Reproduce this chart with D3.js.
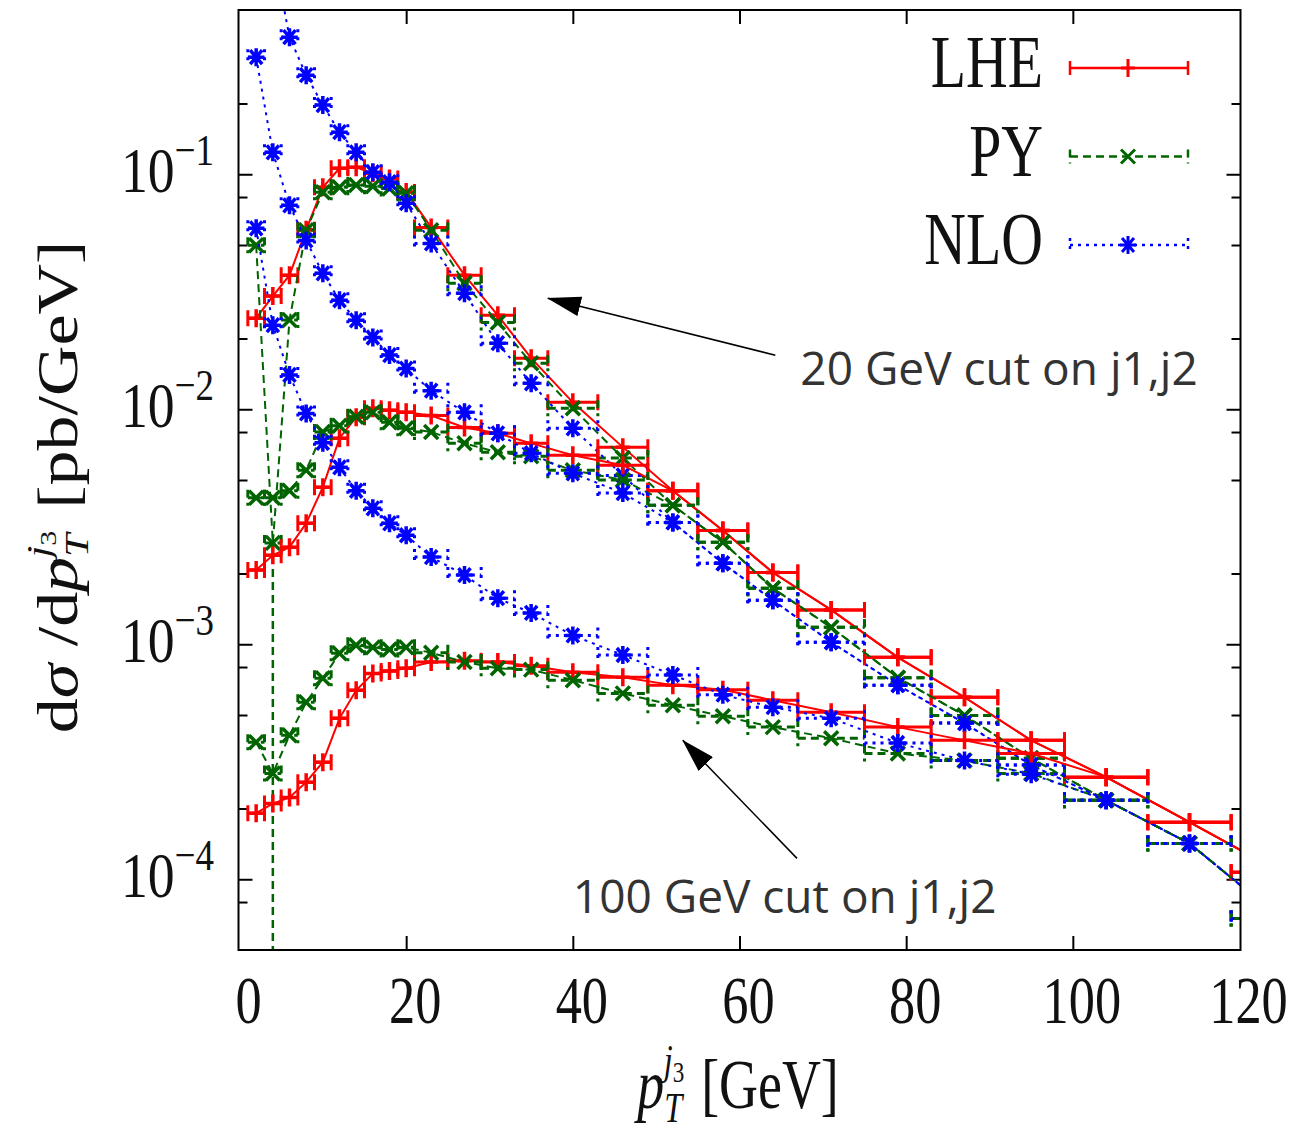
<!DOCTYPE html>
<html>
<head>
<meta charset="utf-8">
<title>pT of third jet</title>
<style>
body { margin: 0; background: #fff; }
svg { display: block; }
.serif { font-family: "Liberation Serif", "DejaVu Serif", serif; fill: #111; }
.note { font-family: "Open Sans", "Liberation Sans", sans-serif; font-size: 46px; fill: #333; }
</style>
</head>
<body>
<script src="https://cdn.jsdelivr.net/npm/d3@7/dist/d3.min.js"></script>
<script>

// bin edges in GeV (2 GeV bins at low pT, wider further out)
const binEdges = [1,3,5,7,9,11,13,15,17,19,21,25,29,33,37,43,49,55,61,67,75,83,91,99,109,119,131];

// 20 GeV cut on j1,j2 (top family)
const lhe20 = [0.0244,0.0303,0.0372,0.058,0.088,0.106,0.107,0.101,0.096,0.084, 0.0594,0.0372,0.0251,0.0165, 0.0107,0.0069,0.0045,0.00305,0.00202, 0.0014,0.00088,0.000595,0.00039, 0.000272,0.000175, 0.000107];
const py20  = [0.0499,0.0027,0.024,0.0578,0.0838,0.088,0.090,0.089,0.087,0.083, 0.0578,0.0344,0.0234,0.0157, 0.0101,0.0062,0.0039,0.00272,0.00173, 0.00118,0.00072,0.000498,0.000327, 0.000217,0.000142, 0.000068];
const nlo20 = [2.5,0.9,0.383,0.264,0.197,0.151,0.124,0.102,0.0925,0.0753, 0.0508,0.0312,0.0191,0.0129, 0.0083,0.00523,0.0033,0.00221,0.00154, 0.00102,0.00067,0.000462,0.000306, 0.000217,0.000142, 0.000068];

// middle family (joins the top one above ~50 GeV)
const lheMid = [0.00207,0.00239,0.00259,0.00327,0.00466,0.00753,0.00925,0.0101,0.0099,0.0097, 0.0094,0.00837,0.0079,0.00716, 0.00637,0.00578,0.0045,0.00305,0.00202, 0.0014,0.00088,0.000595,0.00039, 0.000272,0.000175, 0.000107];
const pyMid  = [0.0042,0.0042,0.0045,0.0055,0.008,0.0085,0.0093,0.0097,0.0088,0.0083, 0.008,0.00716,0.00656,0.00631, 0.0055,0.005,0.0039,0.00272,0.00173, 0.00118,0.00072,0.000498,0.000327, 0.000217,0.000142, 0.000068];
const nloMid = [0.315,0.124,0.0738,0.0523,0.0379,0.0291,0.0239,0.0202,0.017,0.0149, 0.012,0.0097,0.0079,0.0065, 0.00534,0.0044,0.0033,0.00221,0.00154, 0.00102,0.00067,0.000462,0.000306, 0.000217,0.000142, 0.000068];

// 100 GeV cut on j1,j2 (bottom family)
const lhe100 = [0.000191,0.00021,0.000223,0.000259,0.000315,0.000484,0.000637,0.00075,0.00077,0.00079, 0.00084,0.00085,0.00084,0.00081, 0.00076,0.000724,0.00067,0.00064,0.000578, 0.000514,0.000444,0.00039,0.000343, 0.000272,0.000175, 0.000107];
const py100  = [0.000383,0.000282,0.00041,0.000566,0.000716,0.000916,0.00099,0.00097,0.00095,0.00097, 0.00092,0.00084,0.00079,0.00078, 0.000703,0.000618,0.00055,0.000494,0.000444, 0.000398,0.000343,0.00032,0.000282, 0.000217,0.000142, 0.000068];
const nlo100 = [0.0589,0.0228,0.014,0.0096,0.0072,0.00566,0.0045,0.00379,0.00327,0.00291, 0.00235,0.00197,0.00157,0.00136, 0.00109,0.0009,0.00074,0.00061,0.00054, 0.000484,0.00038,0.00032,0.00028, 0.000217,0.000142, 0.000068];

// one PY bin whose error reaches zero (vertical bar down to the axis)
const pyErrDown20 = [0,0.0027,0,0,0,0,0,0,0,0, 0,0,0,0, 0,0,0,0,0, 0,0,0,0, 0,0, 0];

const xTicks = [0,20,40,60,80,100,120];
const yMajor = [1e-4,1e-3,1e-2,1e-1];
const yMinor = [8e-5,2e-4,5e-4,8e-4,2e-3,5e-3,8e-3,2e-2,5e-2,8e-2,2e-1];
const legendNames = ["LHE","PY","NLO"];

const styles = {
  LHE: {color: "#ff0000", dash: null,  marker: "M-7,0H7M0,-9V9"},
  PY:  {color: "#006400", dash: "8,5", marker: "M-7,-7L7,7M-7,7L7,-7"},
  NLO: {color: "#0000ff", dash: "3,5", marker: "M-8,0H8M0,-9V9M-6,-7L6,7M-6,7L6,-7"}
};

const W = 1298, H = 1130;
const frame = {left: 238.5, right: 1240.5, top: 10, bottom: 950};

const x = d3.scaleLinear().domain([0, 120]).range([239.5, 1239.5]);
const y = d3.scaleLog().domain([5e-5, 0.5]).range([frame.bottom, frame.top]);

const svg = d3.select("body").append("svg")
    .attr("width", W)
    .attr("height", H);

svg.append("defs").append("clipPath").attr("id", "plotclip")
  .append("rect")
    .attr("x", frame.left).attr("y", frame.top)
    .attr("width", frame.right - frame.left)
    .attr("height", frame.bottom - frame.top);

// ticks (inward, mirrored on all sides)
function styleAxis(g) {
  g.select(".domain").remove();
  g.selectAll("line").attr("stroke", "#000").attr("stroke-width", 2);
}
svg.append("g").attr("transform", `translate(0,${frame.bottom})`)
  .call(d3.axisBottom(x).tickValues(xTicks.slice(1, -1)).tickSize(-14).tickFormat(""))
  .call(styleAxis);
svg.append("g").attr("transform", `translate(0,${frame.top})`)
  .call(d3.axisTop(x).tickValues(xTicks.slice(1, -1)).tickSize(-14).tickFormat(""))
  .call(styleAxis);
svg.append("g").attr("transform", `translate(${frame.left},0)`)
  .call(d3.axisLeft(y).tickValues(yMajor).tickSize(-14).tickFormat(""))
  .call(styleAxis);
svg.append("g").attr("transform", `translate(${frame.left},0)`)
  .call(d3.axisLeft(y).tickValues(yMinor).tickSize(-9).tickFormat(""))
  .call(styleAxis);
svg.append("g").attr("transform", `translate(${frame.right},0)`)
  .call(d3.axisRight(y).tickValues(yMajor).tickSize(-14).tickFormat(""))
  .call(styleAxis);
svg.append("g").attr("transform", `translate(${frame.right},0)`)
  .call(d3.axisRight(y).tickValues(yMinor).tickSize(-9).tickFormat(""))
  .call(styleAxis);

// data
const plotArea = svg.append("g").attr("clip-path", "url(#plotclip)");
const cap = 8;

function drawSeries(vals, st, errDown) {
  const pts = vals.map((v, i) => ({
    lo: binEdges[i], hi: binEdges[i + 1],
    c: (binEdges[i] + binEdges[i + 1]) / 2,
    v: v, ed: errDown ? errDown[i] : 0
  }));
  const g = plotArea.append("g")
      .attr("stroke", st.color)
      .attr("stroke-width", 3)
      .attr("fill", "none");
  const line = d3.line().x(d => x(d.c)).y(d => y(d.v));
  g.append("path")
      .attr("d", line(pts))
      .attr("stroke-width", 2)
      .attr("stroke-dasharray", st.dash);
  g.selectAll(".bar").data(pts).join("path")
      .attr("class", "bar")
      .attr("stroke-dasharray", st.dash)
      .attr("d", d => {
        const yy = y(d.v), x0 = x(d.lo), x1 = x(d.hi);
        return `M${x0},${yy - cap}V${yy + cap}M${x0},${yy}H${x1}M${x1},${yy - cap}V${yy + cap}`;
      });
  g.selectAll(".ebar").data(pts.filter(d => d.ed > 0)).join("path")
      .attr("class", "ebar")
      .attr("stroke-width", 2.5)
      .attr("stroke-dasharray", st.dash)
      .attr("d", d => {
        const low = d.v - d.ed > 0 ? y(d.v - d.ed) : frame.bottom + 10;
        return `M${x(d.c)},${y(d.v)}V${low}`;
      });
  g.selectAll(".mk").data(pts).join("path")
      .attr("class", "mk")
      .attr("transform", d => `translate(${x(d.c)},${y(d.v)})`)
      .attr("d", st.marker)
      .attr("stroke-width", 3.5);
}

const families = [
  [lhe20, py20, nlo20, pyErrDown20],
  [lheMid, pyMid, nloMid, null],
  [lhe100, py100, nlo100, null]
];
families.forEach(f => {
  drawSeries(f[0], styles.LHE, null);
  drawSeries(f[1], styles.PY, f[3]);
  drawSeries(f[2], styles.NLO, null);
});

// frame
svg.append("rect")
    .attr("x", frame.left).attr("y", frame.top)
    .attr("width", frame.right - frame.left)
    .attr("height", frame.bottom - frame.top)
    .attr("fill", "none")
    .attr("stroke", "#000")
    .attr("stroke-width", 2);

// tick labels
svg.selectAll(".xlab").data(xTicks).join("g")
    .attr("class", "xlab")
    .attr("transform", d => `translate(${x(d) + 9},1023) scale(0.77,1)`)
  .append("text")
    .attr("class", "serif")
    .attr("text-anchor", "middle")
    .style("font-size", "68px")
    .text(d => d);

const ylab = svg.selectAll(".ylab").data(yMajor).join("g")
    .attr("class", "ylab")
    .attr("transform", d => `translate(214,${y(d) + 18}) scale(0.84,1)`)
  .append("text")
    .attr("class", "serif")
    .attr("text-anchor", "end");
ylab.append("tspan").style("font-size", "64px").text("10");
ylab.append("tspan").style("font-size", "44px").attr("dy", -27)
    .text(d => "\u2212" + Math.round(-Math.log10(d)));

// axis titles
const xt = svg.append("g")
    .attr("transform", "translate(738,1108) scale(0.77,1)")
  .append("text")
    .attr("class", "serif")
    .attr("text-anchor", "middle")
    .style("font-size", "70px");
xt.append("tspan").style("font-style", "italic").text("p");
xt.append("tspan").style("font-style", "italic").style("font-size", "42px").attr("dy", 14).text("T");
xt.append("tspan").style("font-style", "italic").style("font-size", "42px").attr("dx", -24).attr("dy", -48).text("j");
xt.append("tspan").style("font-size", "30px").attr("dy", 8).text("3");
xt.append("tspan").attr("dx", 22).attr("dy", 26).text("[GeV]");

const yt = svg.append("g")
    .attr("transform", "translate(77,487) rotate(-90) scale(1,0.8)")
  .append("text")
    .attr("class", "serif")
    .attr("text-anchor", "middle")
    .style("font-size", "70px");
yt.append("tspan").text("d");
yt.append("tspan").style("font-style", "italic").text("\u03c3");
yt.append("tspan").text(" /d");
yt.append("tspan").style("font-style", "italic").text("p");
yt.append("tspan").style("font-style", "italic").style("font-size", "42px").attr("dy", 14).text("T");
yt.append("tspan").style("font-style", "italic").style("font-size", "42px").attr("dx", -24).attr("dy", -48).text("j");
yt.append("tspan").style("font-size", "30px").attr("dy", 8).text("3");
yt.append("tspan").attr("dx", 22).attr("dy", 26).text("[pb/GeV]");

// legend
const legend = svg.append("g");
legendNames.forEach((name, i) => {
  const st = styles[name];
  const ly = 68 + i * 88.5;
  legend.append("g")
      .attr("transform", `translate(1043,${ly + 19}) scale(0.78,1)`)
    .append("text")
      .attr("class", "serif")
      .attr("text-anchor", "end")
      .style("font-size", "74px")
      .text(name);
  const g = legend.append("g")
      .attr("stroke", st.color)
      .attr("stroke-width", 2.5)
      .attr("fill", "none");
  g.append("path")
      .attr("stroke-dasharray", st.dash)
      .attr("d", `M1070,${ly - 7}V${ly + 7}M1070,${ly}H1188M1188,${ly - 7}V${ly + 7}`);
  g.append("path")
      .attr("transform", `translate(1128,${ly})`)
      .attr("stroke-width", 3)
      .attr("d", st.marker);
});

// annotations with arrows (positions in data coordinates)
const notes = [
  {text: "20 GeV cut on j1,j2", tx: 67.3, ty: 0.01265, from: [64.3, 0.01698], to: [37.0, 0.02965]},
  {text: "100 GeV cut on j1,j2", tx: 40.0, ty: 7.16e-5, from: [66.9, 1.227e-4], to: [53.2, 3.9e-4]}
];
svg.select("defs").append("marker")
    .attr("id", "head")
    .attr("markerUnits", "userSpaceOnUse")
    .attr("viewBox", "0 0 34 20")
    .attr("refX", 33).attr("refY", 10)
    .attr("markerWidth", 34).attr("markerHeight", 20)
    .attr("orient", "auto")
  .append("path")
    .attr("d", "M0,0L34,10L0,20Z")
    .attr("fill", "#000");
svg.selectAll(".arrow").data(notes).join("line")
    .attr("class", "arrow")
    .attr("x1", d => x(d.from[0])).attr("y1", d => y(d.from[1]))
    .attr("x2", d => x(d.to[0])).attr("y2", d => y(d.to[1]))
    .attr("stroke", "#000")
    .attr("stroke-width", 1.5)
    .attr("marker-end", "url(#head)");
svg.selectAll(".note").data(notes).join("text")
    .attr("class", "note")
    .attr("x", d => x(d.tx))
    .attr("y", d => y(d.ty))
    .text(d => d.text);

</script>
</body>
</html>
